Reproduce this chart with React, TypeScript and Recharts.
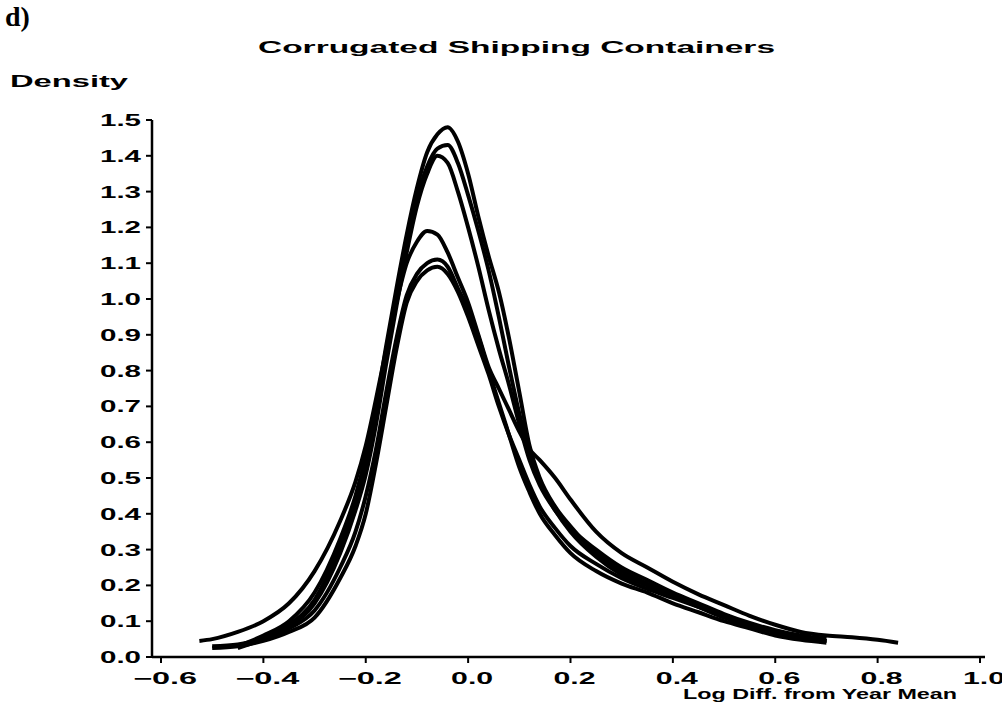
import React from 'react';
import { LineChart, Line, XAxis, YAxis } from 'recharts';

// x positions of the density estimates (log diff from year mean)
const xGrid = [
  -0.525, -0.5, -0.45, -0.4, -0.35, -0.3, -0.25, -0.22, -0.2, -0.18, -0.16,
  -0.14, -0.12, -0.1, -0.08, -0.06, -0.04, -0.02, 0, 0.02, 0.04, 0.06, 0.08,
  0.1, 0.12, 0.14, 0.17, 0.2, 0.25, 0.3, 0.35, 0.4, 0.45, 0.5, 0.55, 0.6,
  0.65, 0.7, 0.75, 0.8, 0.84,
];

// one density curve per year
const yearA = [
  null, null, 0.03, 0.06, 0.1, 0.18, 0.33, 0.45, 0.56, 0.7, 0.87,
  1.03, 1.18, 1.31, 1.41, 1.46, 1.48, 1.44, 1.35, 1.23, 1.12, 1.02, 0.89,
  0.74, 0.59, 0.5, 0.42, 0.365, 0.29, 0.24, 0.205, 0.175, 0.145, 0.115, 0.09, 0.07,
  0.055, 0.045, null, null, null,
];
const yearB = [
  null, null, 0.03, 0.055, 0.09, 0.16, 0.31, 0.43, 0.53, 0.67, 0.84,
  1.0, 1.15, 1.28, 1.37, 1.42, 1.43, 1.38, 1.29, 1.19, 1.08, 0.95, 0.81,
  0.68, 0.57, 0.49, 0.41, 0.35, 0.28, 0.23, 0.2, 0.17, 0.14, 0.11, 0.09, 0.07,
  0.055, 0.045, null, null, null,
];
const yearC = [
  null, null, 0.025, 0.05, 0.085, 0.15, 0.29, 0.41, 0.51, 0.65, 0.82,
  0.98, 1.13, 1.26, 1.35, 1.4, 1.38, 1.3, 1.2, 1.09, 0.97, 0.86, 0.76,
  0.65, 0.55, 0.48, 0.41, 0.36, 0.3, 0.25, 0.215, 0.18, 0.15, 0.12, 0.095, 0.075,
  0.06, 0.05, null, null, null,
];
const yearD = [
  0.045, 0.05, 0.07, 0.1, 0.15, 0.24, 0.38, 0.49, 0.59, 0.72, 0.86,
  0.99, 1.1, 1.16, 1.19, 1.18, 1.13, 1.06, 0.99, 0.9, 0.81, 0.75, 0.69,
  0.63, 0.58, 0.55, 0.5, 0.44, 0.35, 0.29, 0.25, 0.21, 0.175, 0.145, 0.115, 0.09,
  0.07, 0.06, 0.055, 0.048, 0.04,
];
const yearE = [
  null, 0.03, 0.035, 0.05, 0.08, 0.13, 0.25, 0.35, 0.45, 0.58, 0.74,
  0.89, 1.01, 1.07, 1.1, 1.11, 1.09, 1.03, 0.97, 0.895, 0.8, 0.71, 0.62,
  0.53, 0.46, 0.4, 0.34, 0.29, 0.24, 0.205, 0.18, 0.15, 0.125, 0.1, 0.08, 0.06,
  0.048, 0.04, null, null, null,
];
const yearF = [
  null, 0.025, 0.03, 0.045, 0.07, 0.11, 0.22, 0.31, 0.4, 0.54, 0.7,
  0.86, 0.99, 1.05, 1.08, 1.09, 1.07, 1.02, 0.95, 0.87, 0.79, 0.7, 0.62,
  0.55, 0.48, 0.42, 0.36, 0.31, 0.26, 0.22, 0.19, 0.165, 0.14, 0.115, 0.09, 0.07,
  0.055, 0.045, null, null, null,
];

const xTicks = [-0.6, -0.4, -0.2, 0, 0.2, 0.4, 0.6, 0.8, 1.0];
const yTicks = [0, 0.1, 0.2, 0.3, 0.4, 0.5, 0.6, 0.7, 0.8, 0.9, 1.0, 1.1, 1.2, 1.3, 1.4, 1.5];

const seriesKeys = ['a', 'b', 'c', 'd', 'e', 'f'];
const chartData = xGrid.map((x, i) => ({
  x,
  a: yearA[i],
  b: yearB[i],
  c: yearC[i],
  d: yearD[i],
  e: yearE[i],
  f: yearF[i],
}));

const FONT = '"Liberation Sans", Arial, sans-serif';

const YTick = (props: any) => {
  const { x, y, payload } = props;
  return (
    <text
      x={x - 42}
      y={y + 6}
      textLength={41}
      lengthAdjust="spacingAndGlyphs"
      fontFamily={FONT}
      fontWeight={700}
      fontSize={16}
      fill="#000"
    >
      {Number(payload.value).toFixed(1)}
    </text>
  );
};

const XTick = (props: any) => {
  const { x, y, payload } = props;
  const v = Number(payload.value);
  const neg = v < 0;
  const label = neg ? '\u2212' + Math.abs(v).toFixed(1) : v.toFixed(1);
  const w = neg ? 64 : 42;
  return (
    <text
      x={x + 4 - w / 2}
      y={y + 17}
      textLength={w}
      lengthAdjust="spacingAndGlyphs"
      fontFamily={FONT}
      fontWeight={700}
      fontSize={16}
      fill="#000"
    >
      {label}
    </text>
  );
};

const App: React.FC = () => {
  return (
    <div style={{ position: 'absolute', left: 0, top: 0, width: 1002, height: 715, background: '#fff' }}>
      <LineChart
        width={1002}
        height={715}
        data={chartData}
        margin={{ top: 120, right: 17, bottom: 18, left: 92 }}
      >
        <XAxis
          dataKey="x"
          type="number"
          domain={[-0.6176, 1.0098]}
          allowDataOverflow
          ticks={xTicks}
          interval={0}
          height={40}
          tickSize={6}
          tickMargin={4}
          tick={<XTick />}
          axisLine={{ stroke: '#000', strokeWidth: 2.5 }}
          tickLine={{ stroke: '#000', strokeWidth: 2 }}
        />
        <YAxis
          type="number"
          domain={[0, 1.5]}
          allowDataOverflow
          ticks={yTicks}
          interval={0}
          width={60}
          tickSize={6}
          tickMargin={4}
          tick={<YTick />}
          axisLine={{ stroke: '#000', strokeWidth: 2.5 }}
          tickLine={{ stroke: '#000', strokeWidth: 2 }}
        />
        {seriesKeys.map((k) => (
          <Line
            key={k}
            dataKey={k}
            type="monotone"
            stroke="#000"
            strokeWidth={4}
            dot={false}
            activeDot={false}
            connectNulls={false}
            isAnimationActive={false}
          />
        ))}
      </LineChart>
      <svg
        width={1002}
        height={715}
        style={{ position: 'absolute', left: 0, top: 0, pointerEvents: 'none' }}
      >
        <text x={5} y={26} fontFamily='"Liberation Serif", "Times New Roman", serif' fontWeight={700} fontSize={28} fill="#000">
          d)
        </text>
        <text x={258} y={53} textLength={517} lengthAdjust="spacingAndGlyphs" fontFamily={FONT} fontWeight={700} fontSize={17} fill="#000">
          Corrugated Shipping Containers
        </text>
        <text x={10} y={87} textLength={118} lengthAdjust="spacingAndGlyphs" fontFamily={FONT} fontWeight={700} fontSize={16} fill="#000">
          Density
        </text>
        <text x={683} y={699} textLength={274} lengthAdjust="spacingAndGlyphs" fontFamily={FONT} fontWeight={700} fontSize={14} fill="#000">
          Log Diff. from Year Mean
        </text>
      </svg>
    </div>
  );
};

export default App;
